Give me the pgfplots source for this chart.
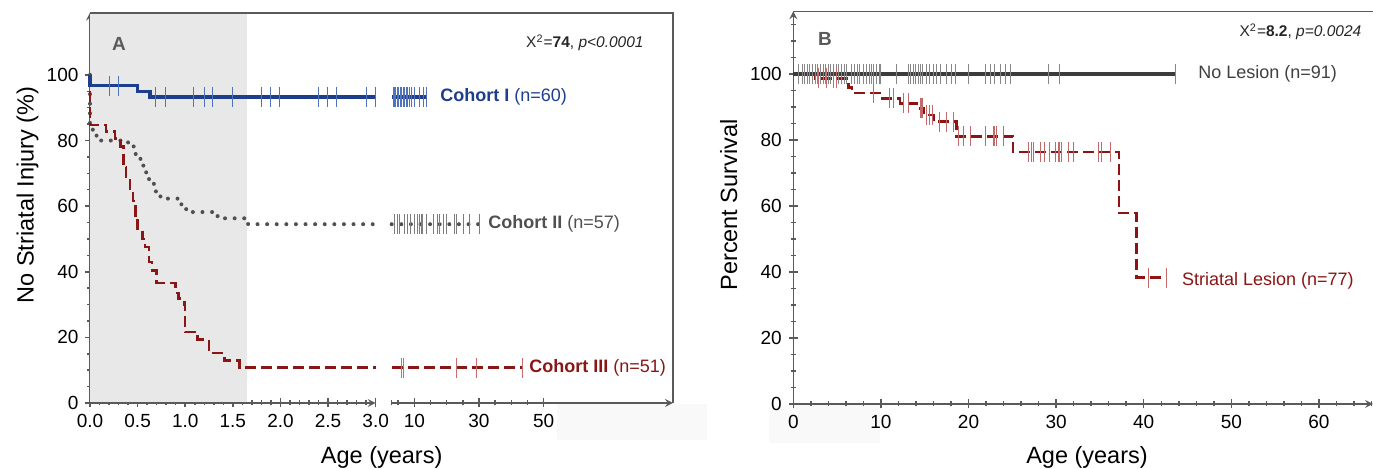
\documentclass[border=0pt]{standalone}
\usepackage{fontspec}
\setmainfont{Liberation Sans}
\usepackage{pgfplots}
\pgfplotsset{compat=1.18}

\definecolor{axisc}{RGB}{90,90,90}
\definecolor{shadec}{RGB}{232,232,232}
\definecolor{patchc}{RGB}{249,249,249}
\definecolor{cohI}{RGB}{28,62,140}
\definecolor{cohIm}{RGB}{80,115,185}
\definecolor{cohII}{RGB}{80,80,80}
\definecolor{cohIIm}{RGB}{125,125,125}
\definecolor{cohIII}{RGB}{139,22,22}
\definecolor{cohIIIm}{RGB}{200,110,110}
\definecolor{nolesion}{RGB}{60,60,60}
\definecolor{nolesionm}{RGB}{135,135,135}
\definecolor{lesion}{RGB}{140,20,20}
\definecolor{lesionm}{RGB}{195,105,105}

\pgfplotsset{
  km/.style={
    scale only axis, clip=false,
    ymin=0, ymax=119,
    axis line style={draw=axisc, line width=0.75pt, -},
    tick style={draw=axisc, line width=0.75pt},
    tick align=outside,
    major tick length=4.5pt, minor tick length=2.5pt,
    tick label style={font=\fontsize{9.5}{11}\selectfont, text=black},
    /pgf/number format/assume math mode=true,
  },
  censor/.style={only marks, mark=|, mark size=5pt,
    mark options={line width=0.5pt, draw=#1}},
  stepline/.style={const plot mark left, no marks},
  dots/.style={line width=2pt, line cap=round, dash pattern=on 0pt off 4.8pt},
  dashes/.style={line width=1.25pt, dash pattern=on 5.5pt off 2.5pt},
}
\tikzset{txt/.style={inner sep=0pt}}

\begin{document}
\begin{tikzpicture}
\path[use as bounding box] (0,0) rectangle (686.5pt,234.5pt);
% faint patches under the x axes
\fill[patchc] (278.35pt,14.5pt) rectangle (353.35pt,32.5pt);
\fill[patchc] (384.5pt,13pt) rectangle (440pt,32pt);

% ---------- Panel A, part 1: 0 to 3 years ----------
\begin{axis}[km,
  at={(45pt,33pt)}, anchor=south west,
  width=142.85pt, height=195.2pt,
  xmin=0, xmax=3,
  axis x line=bottom, axis y line=left,
  xtick={0,0.5,...,3}, minor x tick num=4,
  xticklabel style={/pgf/number format/fixed, /pgf/number format/fixed zerofill,
    /pgf/number format/precision=1},
  ytick={0,20,...,100}, minor ytick={5,10,...,95},
]
\fill[shadec] (axis cs:0,0.4) rectangle (axis cs:1.645,119);
% Cohort II
\addplot[stepline, cohII, dots] coordinates {
  (0,100) (0,83.3) (0.03,81.5) (0.10,80.0) (0.40,78.2) (0.48,75.7)
  (0.53,73.3) (0.56,71.0) (0.59,68.8) (0.62,66.8) (0.68,64.5) (0.74,62.3)
  (0.96,60.0) (1.01,58.2) (1.34,56.3) (1.66,54.5) (3.0,54.5)
};
% Cohort III
\addplot[stepline, cohIII, dashes] coordinates {
  (0,100) (0,84.7) (0.17,82.7) (0.26,80.6) (0.32,78.2) (0.35,72.0)
  (0.38,68.0) (0.42,65.3) (0.45,61.6) (0.48,57.0) (0.50,52.6) (0.55,50.0)
  (0.58,47.5) (0.62,43.0) (0.65,40.4) (0.70,36.5) (0.90,33.5) (0.93,31.8)
  (0.99,29.8) (1.00,21.6) (1.13,19.3) (1.25,15.2) (1.41,12.9) (1.57,10.8)
  (3.0,10.8)
};
% Cohort I
\addplot[stepline, cohI, line width=1.6pt] coordinates {
  (0,100) (0,96.7) (0.50,95.0) (0.63,93.3) (3.0,93.3)
};
\addplot[censor=cohIm] coordinates {
  (0.20,96.7) (0.30,96.7)
  (0.69,93.3) (0.79,93.3) (1.09,93.3) (1.20,93.3) (1.29,93.3) (1.50,93.3)
  (1.80,93.3) (1.90,93.3) (1.99,93.3) (2.40,93.3) (2.49,93.3) (2.59,93.3)
  (2.90,93.3) (3.00,93.3)
};
\end{axis}

% ---------- Panel A, part 2: 3 years on ----------
\begin{axis}[km,
  at={(195.85pt,33pt)}, anchor=south west,
  width=140.65pt, height=195.2pt,
  xmin=3, xmax=90,
  axis x line=bottom, axis y line=none,
  xtick={10,30,50}, minor xtick={3,5,15,20,25,35,40,45},
  ytick=\empty,
]
\addplot[cohII, dots] coordinates {(3,54.5) (30.3,54.5)};
\addplot[censor=cohIIm] coordinates {
  (4.0,54.5) (4.7,54.5) (5.3,54.5) (7.1,54.5) (7.8,54.5) (8.7,54.5)
  (10.2,54.5) (10.9,54.5) (11.5,54.5) (12.1,54.5) (12.6,54.5) (13.8,54.5)
  (15.9,54.5) (17.1,54.5) (17.9,54.5) (19.0,54.5) (20.0,54.5) (22.3,54.5)
  (23.1,54.5) (25.2,54.5) (27.2,54.5) (30.3,54.5)
};
\addplot[cohIII, dashes] coordinates {(3,10.8) (43.5,10.8)};
\addplot[censor=cohIIIm] coordinates {
  (6.1,10.8) (6.8,10.8) (23.1,10.8) (29.1,10.8) (43.5,10.8)
};
\addplot[cohI, line width=1.6pt] coordinates {(3,93.3) (13.8,93.3)};
\addplot[censor=cohIm] coordinates {
  (3.5,93.3) (3.9,93.3) (4.3,93.3) (4.8,93.3) (5.2,93.3) (5.6,93.3)
  (6.0,93.3) (6.5,93.3) (7.0,93.3) (7.5,93.3) (8.0,93.3) (8.6,93.3)
  (9.2,93.3) (10.2,93.3) (11.5,93.3) (12.8,93.3) (13.8,93.3)
};
\end{axis}

% frame of panel A
\draw[axisc, line width=0.75pt] (45pt,228pt) -- (336.5pt,228pt) -- (336.5pt,33pt);

% ---------- Panel B ----------
\begin{axis}[km,
  at={(396.65pt,32.5pt)}, anchor=south west,
  width=289.85pt, height=196.35pt,
  xmin=0, xmax=66.17,
  axis x line=bottom, axis y line=left,
  xtick={0,10,...,60}, minor xtick={2,4,...,66},
  ytick={0,20,...,100}, minor ytick={5,10,...,115},
]
\draw[axisc, line width=0.75pt] (rel axis cs:0,1) -- (rel axis cs:1,1);
\addplot[stepline, lesion, dashes] coordinates {
  (0,100) (2.5,98.7) (6.3,95.9) (6.7,94.3) (9.9,92.6) (12.2,91.1)
  (14.1,89.6) (14.9,87.6) (16.0,85.6) (18.6,81.1) (25.1,76.3)
  (37.2,57.8) (39.2,38.3) (42.6,38.3)
};
\addplot[nolesion, line width=1.8pt] coordinates {(0,100) (43.65,100)};
\addplot[censor=nolesionm] coordinates {
  (0.65,100) (1.0,100) (1.3,100) (1.6,100) (1.9,100) (2.2,100) (2.5,100)
  (2.8,100) (3.1,100) (3.4,100) (3.7,100) (4.0,100) (4.3,100) (4.6,100)
  (4.9,100) (5.2,100) (5.5,100) (5.8,100) (6.1,100)
  (6.67,100) (7.04,100) (7.3,100) (7.6,100) (8.0,100) (8.4,100) (8.7,100)
  (8.95,100) (9.2,100) (9.5,100) (9.8,100) (9.9,100)
  (11.8,100) (13.1,100) (13.4,100) (13.7,100) (14.0,100) (14.3,100)
  (14.5,100) (14.8,100) (15.2,100) (15.6,100) (16.0,100) (16.4,100)
  (16.8,100) (17.5,100) (18.1,100) (18.5,100) (20.0,100) (21.9,100)
  (22.5,100) (23.0,100) (23.6,100) (24.2,100) (24.8,100)
  (29.1,100) (30.4,100) (43.65,100)
};
\addplot[censor=lesionm] coordinates {
  (2.85,98.7) (3.8,98.7) (4.6,98.7) (4.95,98.7)
  (9.1,94.3)
  (11.0,92.6) (11.4,92.6)
  (12.6,91.1) (13.1,91.1)
  (14.5,89.6) (14.65,89.6) (14.8,89.6)
  (15.2,87.6) (15.6,87.6) (15.9,87.6)
  (16.7,85.6) (17.5,85.6) (18.3,85.6)
  (18.8,81.1) (19.4,81.1) (20.2,81.1) (21.9,81.1) (22.8,81.1) (23.0,81.1)
  (23.2,81.1) (24.0,81.1)
  (26.8,76.3) (27.2,76.3) (27.4,76.3) (28.2,76.3) (28.7,76.3) (29.3,76.3)
  (29.9,76.3) (30.3,76.3) (30.4,76.3) (30.6,76.3) (31.4,76.3) (32.0,76.3)
  (34.8,76.3) (35.2,76.3) (36.2,76.3)
  (40.6,38.3) (42.6,38.3)
};
\end{axis}

% ---------- texts ----------
\node[txt, font=\fontsize{9.5}{11}\selectfont\bfseries, text=axisc] at (59.5pt,212.5pt) {A};
\node[txt, font=\fontsize{9.5}{11}\selectfont\bfseries, text=axisc] at (412.5pt,215pt) {B};
\node[txt, anchor=east, font=\fontsize{7.75}{9}\selectfont, text=black!85]
  at (322pt,213pt) {X\textsuperscript{2}=\textbf{74}, \textit{p<0.0001}};
\node[txt, anchor=east, font=\fontsize{7.75}{9}\selectfont, text=black!85]
  at (680.85pt,218.5pt) {X\textsuperscript{2}=\textbf{8.2}, \textit{p=0.0024}};
\node[txt, anchor=west, font=\fontsize{9}{11}\selectfont, text=cohI]
  at (220pt,186pt) {\textbf{Cohort I} (n=60)};
\node[txt, anchor=west, font=\fontsize{9}{11}\selectfont, text=cohII]
  at (244pt,122.5pt) {\textbf{Cohort II} (n=57)};
\node[txt, anchor=west, font=\fontsize{9}{11}\selectfont, text=cohIII]
  at (264.5pt,50.5pt) {\textbf{Cohort III} (n=51)};
\node[txt, anchor=west, font=\fontsize{9}{11}\selectfont, text=black!75]
  at (599pt,197.5pt) {No Lesion (n=91)};
\node[txt, anchor=west, font=\fontsize{9}{11}\selectfont, text=lesion]
  at (590.85pt,94.15pt) {Striatal Lesion (n=77)};
\node[txt, anchor=base, font=\fontsize{11.75}{14}\selectfont] at (190.85pt,2.85pt) {Age (years)};
\node[txt, anchor=base, font=\fontsize{11.75}{14}\selectfont] at (543.5pt,2.85pt) {Age (years)};
\node[txt, anchor=base, rotate=90, font=\fontsize{11.75}{14}\selectfont] at (16.75pt,137pt) {No Striatal Injury (\%)};
\node[txt, anchor=base, rotate=90, font=\fontsize{11.75}{14}\selectfont] at (368.5pt,132pt) {Percent Survival};
\end{tikzpicture}
\end{document}
